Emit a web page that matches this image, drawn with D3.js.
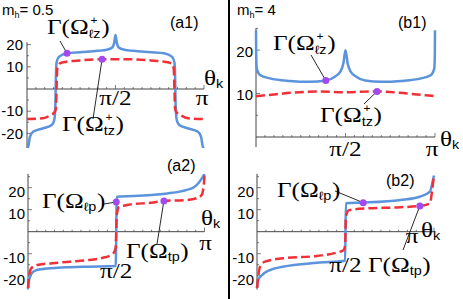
<!DOCTYPE html>
<html>
<head>
<meta charset="utf-8">
<script src="https://cdn.jsdelivr.net/npm/d3@7"></script>
<style>
body { margin: 0; background: #fff; }
svg { display: block; }
</style>
</head>
<body>
<svg id="chart" width="463" height="299"></svg>
<script>
// theta in units of pi, value
var blueA1 = [[0, -27], [0.007, -26], [0.017, -21.5], [0.036, -19.2], [0.092, -17.7], [0.14, -16.2], [0.154, -14],
	[0.16, -8], [0.163, 5], [0.167, 12], [0.18, 14.5], [0.226, 16.1], [0.3, 16.6], [0.4, 17.2], [0.45, 17.7],
	[0.48, 18.6], [0.493, 21], [0.5, 24.3], [0.507, 21], [0.52, 18.6], [0.55, 17.7], [0.6, 17.2], [0.7, 16.6],
	[0.774, 16.1], [0.82, 14.5], [0.833, 12], [0.837, 5], [0.84, -8], [0.846, -14], [0.86, -16.2], [0.908, -17.7],
	[0.964, -19.2], [0.983, -21.5], [0.993, -26], [1, -27]];
var redA1 = [[0, -13.5], [0.09, -13.2], [0.13, -11.9], [0.155, -10.5], [0.163, -9], [0.167, 0], [0.171, 9.3],
	[0.186, 11.6], [0.224, 12.3], [0.3, 12.9], [0.41, 13.4], [0.5, 13.4], [0.59, 13.4], [0.7, 12.9], [0.776, 12.3],
	[0.814, 11.6], [0.829, 9.3], [0.833, 0], [0.837, -9], [0.845, -10.5], [0.87, -11.9], [0.91, -13.2], [1, -13.5]];
var blueB1 = [[0, 24.6], [0.001, 19], [0.004, 15.8], [0.022, 14.3], [0.078, 13.5], [0.19, 12.9], [0.3, 12.7],
	[0.39, 13.0], [0.44, 13.9], [0.47, 15.0], [0.488, 16.9], [0.5, 20], [0.512, 16.9], [0.53, 15.0], [0.56, 13.9],
	[0.61, 13.0], [0.7, 12.7], [0.81, 12.9], [0.922, 13.5], [0.978, 14.3], [0.996, 15.8], [0.999, 19], [1, 24.6]];
var redB1 = [[0, 9.4], [0.1, 9.8], [0.2, 10.2], [0.35, 10.5], [0.5, 10.3], [0.65, 10.5], [0.8, 10.2], [0.9, 9.8], [1, 9.4]];
var blueA2 = [[0, -26], [0.004, -23], [0.021, -18.9], [0.049, -17.4], [0.125, -16.6], [0.31, -15.9], [0.497, -15.6],
	[0.503, 15.9], [0.6, 16.2], [0.7, 16.7], [0.79, 17.4], [0.86, 18.2], [0.9, 19], [0.94, 20.2], [0.965, 22],
	[0.985, 24.2], [1, 26.3]];
var redA2 = [[0, -25.5], [0.006, -20], [0.02, -16.5], [0.06, -15], [0.14, -14.3], [0.24, -13.6], [0.33, -13],
	[0.425, -11.8], [0.47, -10.6], [0.49, -9], [0.497, -7], [0.503, 7.5], [0.508, 9.8], [0.512, 11.1], [0.56, 12.1],
	[0.71, 13.3], [0.77, 14], [0.9, 14.4], [0.955, 15.2], [0.984, 16.7], [0.997, 22], [1, 25.8]];
var blueB2 = [[0, -25.5], [0.006, -22], [0.028, -19.7], [0.073, -17.4], [0.146, -15.9], [0.34, -14.1], [0.498, -13.2],
	[0.502, 12.9], [0.6, 13.2], [0.81, 14.4], [0.92, 15.9], [0.977, 18.2], [0.994, 23.5], [1, 25.5]];
var redB2 = [[0, -25.5], [0.017, -15.9], [0.045, -13.6], [0.146, -12.1], [0.34, -11], [0.45, -9.5], [0.49, -8.3],
	[0.498, -6], [0.502, 6.8], [0.52, 9.8], [0.62, 10.6], [0.81, 11.1], [0.92, 11.7], [0.977, 12.9], [0.99, 19], [1, 25.8]];

// marked points: [blue, red]
var dotsA1 = [[0.226, 16.1], [0.424, 13.4]];
var dotsB1 = [[0.39, 13.0], [0.676, 10.5]];
var dotsA2 = [[0.5, 13.5], [0.77, 14]];
var dotsB2 = [[0.6, 13.2], [0.92, 11.7]];

var yTicksWide = [-20, -10, 10, 20];
var yTicksB1 = [10, 20];
var xTickVals = [0.5, 1];
var xTickLabels = ['π/2', 'π'];
var massLabels = ['0.5', '4'];

(function () {
	'use strict';
	var svg = d3.select('#chart'),
		BLUE = '#5b93dc', RED = '#ef3038', DOT = '#a24af0', AXIS = '#444',
		SERIF = '"Liberation Serif", "DejaVu Serif", serif',
		SANS = '"Liberation Sans", Arial, sans-serif',
		STRETCH = 1.2,
		serifText, drawPanel, gammaLabel, thetaLabel, massLabel, callout,
		a1, b1, a2, b2;

	// serif glyphs in the figure are wider than Liberation Serif, stretch them a bit
	serifText = function (x, y, anchor) {
		return svg.append('g')
			.attr('transform', 'translate(' + x + ',' + y + ') scale(' + STRETCH + ',1)')
			.append('text')
			.attr('text-anchor', anchor || 'start')
			.attr('font-family', SERIF).attr('font-size', 21);
	};

	gammaLabel = function (x, y, sup, sub) {
		var t = serifText(x, y), w, sw, s;
		t.append('tspan').text('Γ(Ω');
		w = t.node().getComputedTextLength();
		if (sup) {
			t.append('tspan').attr('x', w + 1.5).attr('dy', -10)
				.attr('font-family', SANS).attr('font-size', 10).text(sup);
		}
		s = t.append('tspan').attr('x', w).attr('dy', sup ? 14 : 3)
			.attr('font-family', SANS).attr('font-size', 12).text(sub);
		sw = s.node().getComputedTextLength();
		t.append('tspan').attr('x', w + sw + 0.5).attr('dy', sup ? -4 : -3).text(')');
	};

	thetaLabel = function (x, y) {
		var t = serifText(x, y);
		t.append('tspan').text('θ');
		t.append('tspan').attr('dy', 3).attr('font-family', SANS).attr('font-size', 12).text('k');
	};

	massLabel = function (x, y, val) {
		var t = svg.append('text').attr('x', x).attr('y', y)
			.attr('font-family', SANS).attr('font-size', 15);
		t.append('tspan').text('m');
		t.append('tspan').attr('dy', 3).attr('font-size', 9).text('h');
		t.append('tspan').attr('dy', -3).text('= ' + val);
	};

	callout = function (p, d, x2, y2) {
		svg.append('line')
			.attr('x1', p.x(d[0])).attr('y1', p.y(d[1]))
			.attr('x2', x2).attr('y2', y2)
			.attr('stroke', '#111').attr('stroke-width', 0.9);
	};

	drawPanel = function (o) {
		var p = {}, g, line, clipId = 'clip-' + o.id;
		p.x = d3.scaleLinear().domain([0, 1]).range(o.xRange);
		p.y = d3.scaleLinear().domain(o.yDomain).range(o.yRange);
		g = svg.append('g');

		// axes
		g.append('line').attr('x1', p.x(0)).attr('x2', p.x(1)).attr('y1', p.y(0)).attr('y2', p.y(0))
			.attr('stroke', AXIS).attr('stroke-width', 1);
		g.selectAll('.xt').data(d3.range(1, 21)).enter().append('line')
			.attr('x1', function (d) { return p.x(d / 20); })
			.attr('x2', function (d) { return p.x(d / 20); })
			.attr('y1', p.y(0))
			.attr('y2', function (d) { return p.y(0) - (d % 10 === 0 ? 4 : 2); })
			.attr('stroke', AXIS).attr('stroke-width', 0.7);
		g.append('line').attr('x1', p.x(0)).attr('x2', p.x(0))
			.attr('y1', p.y(o.axisTop)).attr('y2', p.y(o.yDomain[0]))
			.attr('stroke', AXIS).attr('stroke-width', 1);
		g.selectAll('.yt').data(d3.range(-25, 26, 5).filter(function (v) {
			return v !== 0 && v <= o.axisTop && v >= o.yDomain[0];
		})).enter().append('line')
			.attr('x1', p.x(0))
			.attr('x2', function (v) { return p.x(0) + (v % 10 === 0 ? 4 : 2); })
			.attr('y1', function (v) { return p.y(v); })
			.attr('y2', function (v) { return p.y(v); })
			.attr('stroke', AXIS).attr('stroke-width', 0.7);
		g.selectAll('.yl').data(o.yTicks).enter().append('text')
			.attr('x', o.tickEnd)
			.attr('y', function (v) { return p.y(v) + o.tickDy; })
			.attr('dy', '0.35em')
			.attr('text-anchor', 'end')
			.attr('font-family', SANS).attr('font-size', 15)
			.text(function (v) { return v; });

		// curves
		svg.append('clipPath').attr('id', clipId).append('rect')
			.attr('x', o.xRange[0] - 5).attr('y', o.yRange[1])
			.attr('width', o.xRange[1] - o.xRange[0] + 10).attr('height', o.yRange[0] - o.yRange[1]);
		line = d3.line()
			.x(function (d) { return p.x(d[0]); })
			.y(function (d) { return p.y(d[1]); })
			.curve(d3.curveMonotoneX);
		g.append('path').datum(o.blue).attr('d', line).attr('clip-path', 'url(#' + clipId + ')')
			.attr('fill', 'none').attr('stroke', BLUE).attr('stroke-width', 2.5);
		g.append('path').datum(o.red).attr('d', line).attr('clip-path', 'url(#' + clipId + ')')
			.attr('fill', 'none').attr('stroke', RED).attr('stroke-width', 2.5)
			.attr('stroke-dasharray', '9,4');
		return p;
	};

	a1 = drawPanel({ id: 'a1', xRange: [27, 204], yDomain: [-26.6, 26.6], yRange: [148, 30], axisTop: 21.1,
		blue: blueA1, red: redA1, yTicks: yTicksWide, tickEnd: 23, tickDy: 0 });
	b1 = drawPanel({ id: 'b1', xRange: [256, 435], yDomain: [-2.3, 25.1], yRange: [147, 28], axisTop: 25.1,
		blue: blueB1, red: redB1, yTicks: yTicksB1, tickEnd: 253, tickDy: 1.5 });
	a2 = drawPanel({ id: 'a2', xRange: [28, 204.5], yDomain: [-26.3, 26.3], yRange: [289.6, 173.8], axisTop: 26.3,
		blue: blueA2, red: redA2, yTicks: yTicksWide, tickEnd: 25, tickDy: 4 });
	b2 = drawPanel({ id: 'b2', xRange: [257, 434], yDomain: [-26.3, 26.3], yRange: [289.6, 173.8], axisTop: 26.3,
		blue: blueB2, red: redB2, yTicks: yTicksWide, tickEnd: 254, tickDy: 4 });

	// callout lines first, dots over them
	callout(a1, dotsA1[0], 60, 41);
	callout(a1, dotsA1[1], 93, 119);
	callout(b1, dotsB1[0], 311, 55);
	callout(b1, dotsB1[1], 364, 104);
	callout(a2, dotsA2[0], 104, 204);
	callout(a2, dotsA2[1], 157, 244);
	callout(b2, dotsB2[0], 335, 191);
	callout(b2, dotsB2[1], 403, 250);

	[[a1, dotsA1], [b1, dotsB1], [a2, dotsA2], [b2, dotsB2]].forEach(function (pair) {
		var p = pair[0];
		svg.selectAll(null).data(pair[1]).enter().append('circle')
			.attr('cx', function (d) { return p.x(d[0]); })
			.attr('cy', function (d) { return p.y(d[1]); })
			.attr('r', 3.5).attr('fill', DOT);
	});

	// x tick labels: [panel, baseline of pi/2, baseline of pi, shift of pi]
	[[a1, 105, 105, -2], [b1, 156, 156, -3], [a2, 278, 250, 1], [b2, 272, 243, -22]].forEach(function (row) {
		var p = row[0];
		serifText(p.x(xTickVals[0]), row[1], 'middle').text(xTickLabels[0]);
		serifText(p.x(xTickVals[1]) + row[3], row[2], 'middle').text(xTickLabels[1]);
	});

	thetaLabel(204, 85);
	thetaLabel(440, 146);
	thetaLabel(201, 225);
	thetaLabel(421, 237);

	massLabel(2, 15, massLabels[0]);
	massLabel(237, 15, massLabels[1]);

	[['(a1)', 170, 28], ['(b1)', 398, 28], ['(a2)', 167, 171], ['(b2)', 386, 186]].forEach(function (r) {
		svg.append('text').attr('x', r[1]).attr('y', r[2])
			.attr('font-family', SANS).attr('font-size', 16).text(r[0]);
	});

	gammaLabel(47, 34, '+', 'ℓz');
	gammaLabel(62, 131, '+', 'tz');
	gammaLabel(273, 50, '+', 'ℓz');
	gammaLabel(320, 122, '+', 'tz');
	gammaLabel(42, 208, null, 'ℓp');
	gammaLabel(126, 258, null, 'tp');
	gammaLabel(277, 197, null, 'ℓp');
	gammaLabel(368, 272, null, 'tp');

	// panel divider
	svg.append('line').attr('x1', 229).attr('x2', 229).attr('y1', 0).attr('y2', 299)
		.attr('stroke', '#000').attr('stroke-width', 2);
}());
</script>
</body>
</html>
